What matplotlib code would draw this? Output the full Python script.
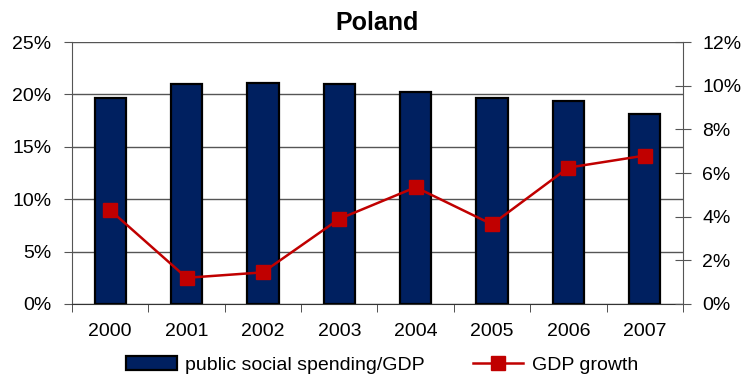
import numpy as np
import matplotlib
matplotlib.use("Agg")
import matplotlib.pyplot as plt
from matplotlib.ticker import FuncFormatter, MultipleLocator

plt.rcParams["font.family"] = ["Liberation Sans", "DejaVu Sans"]

years = ["2000", "2001", "2002", "2003", "2004", "2005", "2006", "2007"]
social_spending = [19.7, 21.0, 21.1, 21.0, 20.2, 19.7, 19.4, 18.1]  # % of GDP
gdp_growth = [4.3, 1.2, 1.45, 3.9, 5.35, 3.65, 6.25, 6.8]  # %

fig = plt.figure(figsize=(7.48, 3.76), dpi=100)
ax = fig.add_axes([0.0963, 0.1915, 0.8167, 0.6965])
x = np.arange(len(years))

ax.bar(x, social_spending, width=0.41, color="#002060", edgecolor="black",
       linewidth=1.6, zorder=3, label="public social spending/GDP")
ax.set_xlim(-0.5, len(years) - 0.5)
ax.set_ylim(0, 25)
ax.yaxis.set_major_locator(MultipleLocator(5))
ax.yaxis.set_major_formatter(FuncFormatter(lambda v, p: f"{v:.0f}%"))
ax.grid(axis="y", color="#555555", linewidth=1, zorder=0)
ax.set_xticks(x)
ax.set_xticklabels(years)
ax.set_xticks(np.arange(-0.5, len(years)), minor=True)
ax.tick_params(axis="x", which="major", length=0, pad=14, labelsize=14)
ax.tick_params(axis="x", which="minor", length=6, direction="out", color="#333333")
ax.tick_params(axis="y", length=6, direction="out", color="#555555", labelsize=14, pad=9)
ax.spines["top"].set_visible(False)
ax.spines["right"].set_visible(False)
ax.spines["left"].set_color("#555555")
ax.spines["bottom"].set_color("#333333")

ax2 = ax.twinx()
ax2.plot(x, gdp_growth, color="#C00000", linewidth=1.8, marker="s",
         markersize=10, zorder=4, label="GDP growth")
ax2.set_ylim(0, 12)
ax2.yaxis.set_major_locator(MultipleLocator(2))
ax2.yaxis.set_major_formatter(FuncFormatter(lambda v, p: f"{v:.0f}%"))
ax2.tick_params(axis="y", length=12, direction="inout", color="#555555",
                labelsize=14, pad=8)
ax2.spines["top"].set_visible(False)
ax2.spines["left"].set_visible(False)
ax2.spines["bottom"].set_visible(False)
ax2.spines["right"].set_color("#555555")

ax.set_title("Poland", fontsize=18, fontweight="bold", pad=9)

h1, l1 = ax.get_legend_handles_labels()
h2, l2 = ax2.get_legend_handles_labels()
fig.legend(h1 + h2, l1 + l2, loc="center", bbox_to_anchor=(0.511, 0.03),
           ncol=2, frameon=False, fontsize=14, handlelength=2.6,
           handleheight=0.75, columnspacing=2.45, handletextpad=0.45,
           borderpad=0)

fig.savefig("out.png", dpi=100)
